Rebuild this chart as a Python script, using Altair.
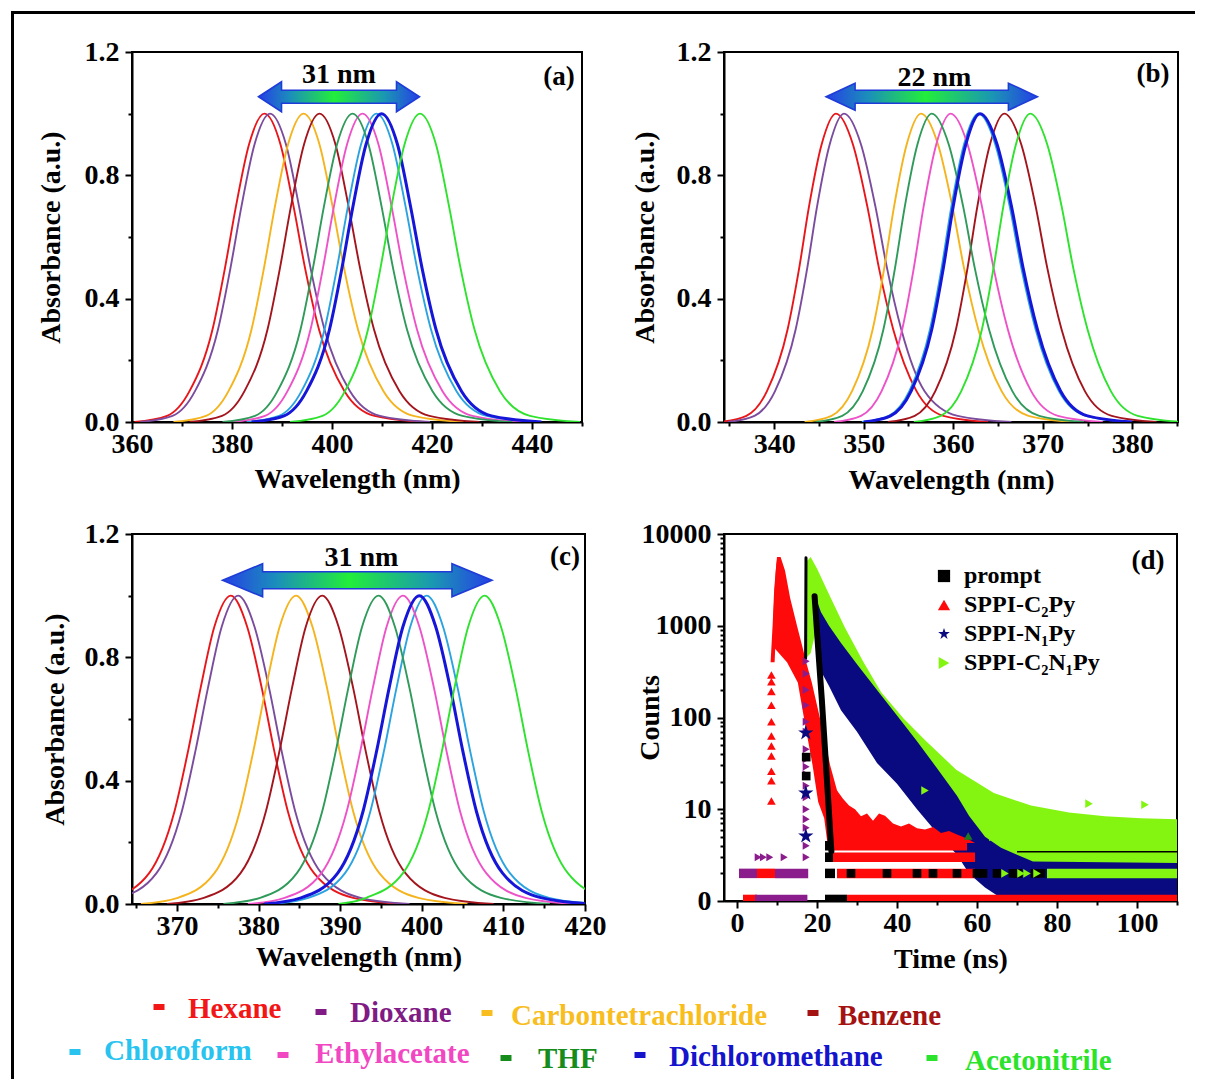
import altair as alt
import pandas as pd

FONT = "Liberation Serif"

# ---------------- data: absorption spectra (panels a-c) ----------------
SOLVENTS = ["Hexane", "Dioxane", "Carbontetrachloride", "Benzene",
            "Chloroform", "Ethylacetate", "THF", "Dichloromethane", "Acetonitrile"]
LINE_COLORS = ["#e8161b", "#7b4c9e", "#f5b31c", "#a3141c", "#2aa3e0",
               "#ee52c8", "#2f9a5a", "#1616d8", "#2ee22e"]
LEGEND_COLORS = ["#f31616", "#801a84", "#f8bd1e", "#a51212", "#28c3ef",
                 "#f247c2", "#168c1c", "#1414cc", "#2be32b"]

# absorbance levels at which the wavelength of each curve was read
LEVELS = [0.0, 0.02, 0.1, 0.3, 0.5, 0.7, 0.9, 1.0, 0.9, 0.7, 0.5, 0.3, 0.1, 0.02, 0.0]

WL_A = [
    [360.5, 367.0, 371.5, 376.1, 378.6, 380.8, 383.4, 386.5, 389.7, 392.3, 394.6, 397.4, 402.5, 408.5, 418.5],
    [361.6, 368.1, 372.6, 377.2, 379.7, 381.9, 384.5, 387.6, 390.8, 393.4, 395.7, 398.5, 403.6, 409.6, 419.6],
    [368.3, 374.8, 379.3, 383.9, 386.4, 388.6, 391.2, 394.3, 397.5, 400.1, 402.4, 405.2, 410.3, 416.3, 426.3],
    [371.5, 378.0, 382.5, 387.1, 389.6, 391.8, 394.4, 397.5, 400.7, 403.3, 405.6, 408.4, 413.5, 419.5, 429.5],
    [382.9, 389.4, 393.9, 398.5, 401.0, 403.2, 405.8, 408.9, 412.1, 414.7, 417.0, 419.8, 424.9, 430.9, 440.9],
    [380.1, 386.6, 391.1, 395.7, 398.2, 400.4, 403.0, 406.1, 409.3, 411.9, 414.2, 417.0, 422.1, 428.1, 438.1],
    [378.1, 384.6, 389.1, 393.7, 396.2, 398.4, 401.0, 404.1, 407.3, 409.9, 412.2, 415.0, 420.1, 426.1, 436.1],
    [383.9, 390.4, 394.9, 399.5, 402.0, 404.2, 406.8, 409.9, 413.1, 415.7, 418.0, 420.8, 425.9, 431.9, 441.9],
    [391.6, 398.1, 402.6, 407.2, 409.7, 411.9, 414.5, 417.6, 420.8, 423.4, 425.7, 428.5, 433.6, 439.6, 449.6],
]
WL_B = [
    [333.9, 336.9, 339.2, 341.5, 342.8, 343.9, 345.3, 346.9, 348.8, 350.4, 351.7, 353.3, 355.9, 358.9, 363.9],
    [334.8, 337.8, 340.1, 342.4, 343.7, 344.8, 346.2, 347.8, 349.7, 351.3, 352.6, 354.2, 356.8, 360.5, 366.5],
    [343.4, 346.4, 348.7, 351.0, 352.3, 353.4, 354.8, 356.4, 358.3, 359.9, 361.2, 362.8, 365.4, 368.4, 373.4],
    [352.7, 355.7, 358.0, 360.3, 361.6, 362.7, 364.1, 365.7, 367.6, 369.2, 370.5, 372.1, 374.7, 377.7, 382.7],
    [349.8, 352.8, 355.1, 357.4, 358.7, 359.8, 361.2, 362.8, 364.7, 366.3, 367.6, 369.2, 371.8, 374.8, 379.8],
    [346.7, 349.7, 352.0, 354.3, 355.6, 356.7, 358.1, 359.7, 361.6, 363.2, 364.5, 366.1, 368.7, 371.7, 376.7],
    [344.6, 347.6, 349.9, 352.2, 353.5, 354.6, 356.0, 357.6, 359.5, 361.1, 362.4, 364.0, 366.6, 369.6, 374.6],
    [350.0, 353.0, 355.3, 357.6, 358.9, 360.0, 361.4, 363.0, 364.9, 366.5, 367.8, 369.4, 372.0, 375.0, 380.0],
    [355.6, 358.6, 360.9, 363.2, 364.5, 365.6, 367.0, 368.6, 370.5, 372.1, 373.4, 375.0, 377.6, 380.6, 385.6],
]
WL_C = [
    [357.6, 362.1, 366.6, 369.7, 371.4, 372.9, 374.6, 376.6, 378.6, 380.4, 381.9, 383.6, 386.8, 391.6, 397.6],
    [358.5, 363.0, 367.5, 370.6, 372.3, 373.8, 375.5, 377.5, 379.5, 381.3, 382.8, 384.5, 387.7, 392.5, 398.5],
    [365.6, 370.1, 374.6, 377.7, 379.4, 380.9, 382.6, 384.6, 386.6, 388.4, 389.9, 391.6, 394.8, 399.6, 405.6],
    [368.8, 373.3, 377.8, 380.9, 382.6, 384.1, 385.8, 387.8, 389.8, 391.6, 393.1, 394.8, 398.0, 402.8, 408.8],
    [381.6, 386.1, 390.6, 393.7, 395.4, 396.9, 398.6, 400.6, 402.6, 404.4, 405.9, 407.6, 410.8, 415.6, 421.6],
    [378.7, 383.2, 387.7, 390.8, 392.5, 394.0, 395.7, 397.7, 399.7, 401.5, 403.0, 404.7, 407.9, 412.7, 418.7],
    [375.7, 380.2, 384.7, 387.8, 389.5, 391.0, 392.7, 394.7, 396.7, 398.5, 400.0, 401.7, 404.9, 409.7, 415.7],
    [380.7, 385.2, 389.7, 392.8, 394.5, 396.0, 397.7, 399.7, 401.7, 403.5, 405.0, 406.7, 409.9, 414.7, 420.7],
    [389.8, 393.2, 397.7, 400.8, 402.5, 404.0, 405.7, 407.7, 409.7, 411.5, 413.0, 414.7, 417.9, 422.7, 428.7],
]

# shift arrows (nm endpoints) and their labels
SHIFT_TEXT = ["31 nm", "22 nm", "31 nm"]
ARROW_NM = [(385.3, 417.5), (345.8, 369.4), (375.6, 408.6)]
ARROW_Y = [1.055, 1.055, 1.05]
SHIFT_POS = [(401.4, 1.125), (357.9, 1.117), (392.6, 1.122)]

# ---------------- data: fluorescence decay (panel d) ----------------
SERIES = ["prompt", "SPPI-C₂Py", "SPPI-N₁Py", "SPPI-C₂N₁Py"]
SERIES_COLORS = ["#000000", "#ff0a0a", "#0a0a80", "#84f511"]

# SPPI-C2N1Py main band (time, upper and lower count)
G_T = [17.4, 18.4, 20.0, 23.0, 27.0, 31.5, 36.0, 41.7, 47.3, 54.8, 64.2, 73.5, 83.0, 92.0, 101.0, 110.0]
G_TOP = [5000, 5600, 4200, 2200, 950, 410, 190, 97, 55, 27, 15, 11, 9.2, 8.4, 8.0, 7.8]
G_BOT = [450, 500, 1000, 400, 250, 120, 60, 35, 15, 6, 2.0, 1.6, 1.6, 1.6, 1.6, 1.6]
# SPPI-N1Py band
B_T = [19.3, 20.3, 21.0, 23.0, 26.0, 30.0, 35.0, 40.0, 45.0, 50.0, 55.0, 58.0, 62.0, 66.0, 70.0, 74.0, 110.0]
B_TOP = [2100, 1700, 1400, 1000, 650, 380, 200, 105, 55, 28, 14, 8.5, 5.0, 3.8, 3.2, 2.7, 2.6]
B_BOT = [1900, 600, 320, 220, 120, 70, 32, 19, 10, 5.5, 3.2, 2.0, 1.4, 1.08, 1.08, 1.08, 1.08]
# SPPI-C2Py rising and decaying edges (count, left time, right time)
R_RISE_C = [400, 1000, 2500, 4500, 5600]
R_RISE_TL = [8.4, 8.9, 9.3, 9.8, 10.1]
R_RISE_TR = [9.4, 9.8, 10.2, 10.6, 10.6]
R_DEC_C = [5600, 4000, 2000, 1000, 600, 400, 240, 96, 30, 12, 8, 4.3]
R_DEC_TL = [10.0, 9.7, 9.3, 9.0, 8.9, 12.5, 15.2, 16.8, 18.9, 20.3, 21.8, 22.6]
R_DEC_TR = [10.9, 12.0, 13.3, 15.0, 16.3, 17.3, 18.7, 20.8, 23.3, 25.8, 28.0, 30.0]
# SPPI-C2Py noisy tail above the 4-count row
R_TAIL_T = [23.5, 25.0, 26.5, 28.0, 29.5, 31.0, 32.5, 34.0, 35.5, 37.0, 39.0, 41.0,
            43.0, 45.0, 47.0, 49.0, 51.0, 53.0, 55.0, 57.5, 59.5]
R_TAIL_TOP = [12, 16, 13, 11, 10, 8.4, 9, 7.5, 9, 8.5, 7, 6.5, 7, 6.2, 6, 6.4, 5.5, 5.8, 5.3, 4.8, 4.3]
R_TAIL_BOT = [4.3] * len(R_TAIL_T)
# discrete count rows (count, start time, end time)
R_ROW_C = [1.04, 2, 3, 4, 2, 1.04]
R_ROW_T0 = [27.5, 25.0, 24.0, 24.0, 5.0, 1.5]
R_ROW_T1 = [110.0, 59.5, 59.5, 57.5, 9.5, 5.0]
P_ROW_C = [2, 2, 1.04]
P_ROW_T0 = [0.5, 9.5, 4.5]
P_ROW_T1 = [5.0, 17.8, 17.6]
K_ROW_C = [4, 3, 2, 1.04]
K_ROW_T0 = [22.0, 22.0, 22.0, 22.0]
K_ROW_T1 = [24.0, 24.0, 24.5, 27.5]
G_ROW_C = [2]
G_ROW_T0 = [77.5]
G_ROW_T1 = [110.0]
K_FLAT_C = [3.45]
K_FLAT_T0 = [70.0]
K_FLAT_T1 = [110.0]
# prompt edges
K_RISE_T = [17.15, 17.25]
K_RISE_C = [440, 5500]
K_DEC_T = [19.4, 20.3, 21.2, 22.0, 22.8, 23.3, 23.6]
K_DEC_C = [2100, 560, 158, 45, 12.6, 5.5, 3.5]
# sparse markers
PROMPT_T = [17.3, 17.3, 28.5, 37.5, 45.0, 49.0, 55.0, 60.0, 61.5, 65.0, 69.0, 70.2, 74.5, 76.0]
PROMPT_C = [23, 37, 2, 2, 2, 2, 2, 2, 2, 2, 2, 2, 2, 2]
C2PY_T = [8.6] * 11
C2PY_C = [12.3, 20.4, 26, 38, 49, 63, 90, 136, 192, 246, 290]
N1PY_T = [17.2, 17.2, 17.2]
N1PY_C = [5.1, 15, 68]
C2N1PY_T = [47.0, 64.0, 88.0, 102.0, 67.0, 71.0, 72.5, 75.0]
C2N1PY_C = [16, 5.0, 11.5, 11.2, 2, 2, 2, 2]
PURPLE_T = [17.3] * 17 + [5.3, 6.6, 8.2, 11.8]
PURPLE_C = [3, 4, 6.3, 7.8, 10, 13.5, 18, 24, 29, 35, 45, 70, 90, 136, 200, 300, 410, 3, 3, 3, 3]
DKGREEN_T = [57.8]
DKGREEN_C = [5.1]

# ---------------- layout / style ----------------
STAR = ("M0,-1L0.2245,-0.309L0.951,-0.309L0.363,0.118L0.588,0.809L0,0.382"
        "L-0.588,0.809L-0.363,0.118L-0.951,-0.309L-0.2245,-0.309Z")
DASH = "M-1,-0.55L1,-0.55L1,0.55L-1,0.55Z"
SERIES_SHAPES = ["square", "triangle-up", STAR, "triangle-right"]
ARROW_DIMS = [(23, 15, 6.5), (29, 13.5, 6.5), (40, 16.5, 8.5)]  # head length, head half-h, shaft half-h (px)
Y_TICKS = [0, 0.2, 0.4, 0.6, 0.8, 1.0, 1.2]
YD_TICKS = [m * 10 ** e for e in range(4) for m in range(1, 10)] + [10000]
LEG_DASH = [(159, 1007), (321, 1012), (487, 1013), (813, 1013),
            (75, 1052), (283, 1055), (506, 1058), (640, 1055), (932, 1058)]
LEG_TEXT = [(188, 1018), (350, 1022), (511, 1025), (838, 1025),
            (104, 1060), (315, 1063), (538, 1068), (669, 1066), (965, 1070)]
ORIGIN_X, LEG_TOP = 132, 1016

GRAD = alt.Gradient(
    gradient="linear",
    stops=[alt.GradientStop(color="#2540e6", offset=0),
           alt.GradientStop(color="#1b8fba", offset=0.2),
           alt.GradientStop(color="#22ee3a", offset=0.47),
           alt.GradientStop(color="#1a98b2", offset=0.78),
           alt.GradientStop(color="#2540e6", offset=1)],
    x1=0, x2=1, y1=0, y2=0)


def tick_cond(test_minor):
    return {"condition": {"test": test_minor, "value": 4}, "value": 7}


def arrow_path(h, H, S):
    a = -1 + h
    b = 1 - h
    return (f"M-1,0L{a:.4f},{-H:.4f}L{a:.4f},{-S:.4f}L{b:.4f},{-S:.4f}L{b:.4f},{-H:.4f}"
            f"L1,0L{b:.4f},{H:.4f}L{b:.4f},{S:.4f}L{a:.4f},{S:.4f}L{a:.4f},{H:.4f}Z")


def spectral_panel(idx, wl_sets, xdom, xvals, xmajor, width, tag, tag_xy, xtitle_y, ytitle_x, extra=None):
    rows = []
    for name, xs in zip(SOLVENTS, wl_sets):
        for k, (x, a) in enumerate(zip(xs, LEVELS)):
            rows.append({"solvent": name, "wl": x, "absb": a, "k": k})
    df = pd.DataFrame(rows)
    xs_ = alt.Scale(domain=xdom, nice=False, zero=False)
    ys_ = alt.Scale(domain=[0, 1.2], nice=False, zero=False)
    xaxis = alt.Axis(values=xvals, format="d",
                     labelExpr=f"datum.value % {xmajor} == 0 ? datum.label : ''",
                     tickSize=tick_cond(f"datum.value % {xmajor} != 0"),
                     title="Wavelength (nm)", titleY=xtitle_y, titleBaseline="middle")
    yaxis = alt.Axis(values=Y_TICKS,
                     labelExpr="round(datum.value * 10) % 4 == 0 ? format(datum.value, '.1f') : ''",
                     tickSize=tick_cond("round(datum.value * 10) % 4 != 0"),
                     title="Absorbance (a.u.)", titleX=ytitle_x, titleBaseline="middle")

    def X(f):
        return alt.X(f"{f}:Q", scale=xs_, axis=xaxis)

    def Y(f):
        return alt.Y(f"{f}:Q", scale=ys_, axis=yaxis)

    lines = alt.Chart(df).mark_line(interpolate="monotone", clip=True).encode(
        x=X("wl"), y=Y("absb"),
        color=alt.Color("solvent:N", scale=alt.Scale(domain=SOLVENTS, range=LINE_COLORS), legend=None),
        strokeWidth=alt.condition(alt.datum.solvent == "Dichloromethane", alt.value(3.0), alt.value(1.9)),
        order=alt.Order("k:Q"),
    )
    x0, x1 = ARROW_NM[idx]
    span_px = (x1 - x0) * width / (xdom[1] - xdom[0])
    u = span_px / 2.0
    h, H, S = ARROW_DIMS[idx]
    arr_df = pd.DataFrame({"wl": [(x0 + x1) / 2.0], "absb": [ARROW_Y[idx]]})
    arrow = alt.Chart(arr_df).mark_point(
        shape=arrow_path(h / u, H / u, S / u), size=span_px ** 2, filled=True,
        fill=GRAD, stroke="#1f3bd8", strokeWidth=1.6, opacity=1,
    ).encode(x=X("wl"), y=Y("absb"))
    lab_df = pd.DataFrame({"wl": [SHIFT_POS[idx][0]], "absb": [SHIFT_POS[idx][1]], "txt": [SHIFT_TEXT[idx]]})
    label = alt.Chart(lab_df).mark_text(font=FONT, fontSize=28, fontWeight="bold", color="black").encode(
        x=X("wl"), y=Y("absb"), text="txt:N")
    tag_df = pd.DataFrame({"txt": [tag]})
    tagm = alt.Chart(tag_df).mark_text(font=FONT, fontSize=27, fontWeight="bold", color="black").encode(
        x=alt.value(tag_xy[0]), y=alt.value(tag_xy[1]), text="txt:N")
    layers = [lines, arrow, label, tagm]
    if extra is not None:
        layers += extra
    return alt.layer(*layers).properties(width=width, height=370)


# figure frame (decoration) placed relative to panel (a)
frame_df = pd.DataFrame({"k": [0]})
frame_top = alt.Chart(frame_df).mark_rule(color="black", strokeWidth=3, clip=False, strokeCap="butt").encode(
    x=alt.value(-121), x2=alt.value(1063), y=alt.value(-39.5))
frame_left = alt.Chart(frame_df).mark_rule(color="black", strokeWidth=3, clip=False, strokeCap="butt").encode(
    x=alt.value(-119.5), y=alt.value(-41), y2=alt.value(1027))

pa = spectral_panel(0, WL_A, [360, 450], list(range(360, 451, 10)), 20, 450, "(a)", (427, 25), 57, -81,
                    extra=[frame_top, frame_left])
pb = spectral_panel(1, WL_B, [334.4, 385.1], list(range(335, 386, 5)), 10, 454, "(b)", (429, 22), 58, -79)
pc = spectral_panel(2, WL_C, [364.5, 420], list(range(365, 421, 5)), 10, 453, "(c)", (433, 23), 53, -77)

# ---------------- panel d ----------------
XD_SCALE = alt.Scale(domain=[-3.25, 110], nice=False, zero=False)
YD_SCALE = alt.Scale(type="log", domain=[1, 10000], nice=False)
AXD_X = alt.Axis(values=list(range(0, 111, 10)), format="d",
                 labelExpr="datum.value % 20 == 0 ? format(datum.value, 'd') : ''",
                 tickSize=tick_cond("datum.value % 20 != 0"),
                 title="Time (ns)", titleY=58, titleBaseline="middle")
AXD_Y = alt.Axis(values=YD_TICKS,
                 labelExpr="datum.value == 1 ? '0' : (indexof([10, 100, 1000, 10000], datum.value) >= 0 ? format(datum.value, 'd') : '')",
                 tickSize=tick_cond("indexof([1, 10, 100, 1000, 10000], datum.value) < 0"),
                 title="Counts", titleX=-74, titleBaseline="middle")


def dx(f):
    return alt.X(f"{f}:Q", scale=XD_SCALE, axis=AXD_X)


def dy(f):
    return alt.Y(f"{f}:Q", scale=YD_SCALE, axis=AXD_Y)


def band(t, top, bot, color):
    df = pd.DataFrame({"t": t, "top": top, "bot": bot})
    return alt.Chart(df).mark_area(color=color, opacity=1, clip=True).encode(
        x=dx("t"), y=dy("top"), y2=alt.Y2("bot"))


def hband(c, tl, tr, color):
    df = pd.DataFrame({"c": c, "tl": tl, "tr": tr})
    return alt.Chart(df).mark_area(color=color, opacity=1, clip=True, orient="horizontal").encode(
        y=dy("c"), x=dx("tl"), x2=alt.X2("tr"))


def rows_rule(c, t0, t1, color, w=9.5):
    df = pd.DataFrame({"c": c, "t0": t0, "t1": t1})
    return alt.Chart(df).mark_rule(color=color, strokeWidth=w, clip=True, strokeCap="butt").encode(
        x=dx("t0"), x2=alt.X2("t1"), y=dy("c"))


def path_line(t, c, color, w):
    df = pd.DataFrame({"t": t, "c": c})
    return alt.Chart(df).mark_line(color=color, strokeWidth=w, clip=True, strokeCap="round",
                                   strokeJoin="round").encode(x=dx("t"), y=dy("c"))


def pts(t, c, color, shape, size):
    df = pd.DataFrame({"t": t, "c": c})
    return alt.Chart(df).mark_point(color=color, shape=shape, size=size, filled=True, opacity=1,
                                    clip=True).encode(x=dx("t"), y=dy("c"))


leg_rows = []
for name, ts, cs in zip(SERIES, [PROMPT_T, C2PY_T, N1PY_T, C2N1PY_T], [PROMPT_C, C2PY_C, N1PY_C, C2N1PY_C]):
    for t, c in zip(ts, cs):
        leg_rows.append({"series": name, "t": t, "c": c})
leg_df = pd.DataFrame(leg_rows)
LEG_D = alt.Legend(title=None, orient="none", legendX=208, legendY=30, labelFont=FONT, labelFontSize=24,
                   labelFontWeight="bold", labelColor="black", symbolSize=150, rowPadding=5,
                   labelOffset=8, symbolStrokeWidth=0, padding=0)
series_pts = alt.Chart(leg_df).mark_point(filled=True, opacity=1, clip=True).encode(
    x=dx("t"), y=dy("c"),
    color=alt.Color("series:N", scale=alt.Scale(domain=SERIES, range=SERIES_COLORS), legend=LEG_D),
    shape=alt.Shape("series:N", scale=alt.Scale(domain=SERIES, range=SERIES_SHAPES), legend=LEG_D),
    size=alt.condition(alt.datum.series == "SPPI-N₁Py", alt.value(260), alt.value(75)),
)
tag_d = alt.Chart(pd.DataFrame({"txt": ["(d)"]})).mark_text(
    font=FONT, fontSize=27, fontWeight="bold", color="black").encode(
    x=alt.value(424), y=alt.value(27), text="txt:N")

pd_ = alt.layer(
    band(G_T, G_TOP, G_BOT, SERIES_COLORS[3]),
    band(B_T, B_TOP, B_BOT, SERIES_COLORS[2]),
    rows_rule(G_ROW_C, G_ROW_T0, G_ROW_T1, SERIES_COLORS[3]),
    rows_rule(K_FLAT_C, K_FLAT_T0, K_FLAT_T1, "#000000", w=1.5),
    rows_rule(R_ROW_C, R_ROW_T0, R_ROW_T1, SERIES_COLORS[1]),
    band(R_TAIL_T, R_TAIL_TOP, R_TAIL_BOT, SERIES_COLORS[1]),
    hband(R_DEC_C, R_DEC_TL, R_DEC_TR, SERIES_COLORS[1]),
    hband(R_RISE_C, R_RISE_TL, R_RISE_TR, SERIES_COLORS[1]),
    rows_rule(P_ROW_C, P_ROW_T0, P_ROW_T1, "#8b1c8b"),
    rows_rule(K_ROW_C, K_ROW_T0, K_ROW_T1, "#000000"),
    path_line(K_RISE_T, K_RISE_C, "#000000", 3),
    path_line(K_DEC_T, K_DEC_C, "#000000", 6),
    pts(PURPLE_T, PURPLE_C, "#8b1c8b", "triangle-right", 65),
    pts(DKGREEN_T, DKGREEN_C, "#1e7a1e", "triangle-up", 75),
    series_pts,
    tag_d,
).properties(width=453, height=367)

# ---------------- solvent legend ----------------
sol_df = pd.DataFrame({
    "solvent": SOLVENTS,
    "dxp": [p[0] - ORIGIN_X for p in LEG_DASH],
    "dyp": [p[1] - LEG_TOP for p in LEG_DASH],
    "txp": [p[0] - ORIGIN_X for p in LEG_TEXT],
    "typ": [p[1] - LEG_TOP for p in LEG_TEXT],
})
LX = alt.Scale(domain=[0, 400], nice=False, zero=False)
LY = alt.Scale(domain=[0, 60], nice=False, zero=False, reverse=True)
LCOL = alt.Color("solvent:N", scale=alt.Scale(domain=SOLVENTS, range=LEGEND_COLORS), legend=None)
dashes = alt.Chart(sol_df).mark_point(shape=DASH, size=121, filled=True, opacity=1).encode(
    x=alt.X("dxp:Q", scale=LX, axis=None), y=alt.Y("dyp:Q", scale=LY, axis=None), color=LCOL)
names = alt.Chart(sol_df).mark_text(font=FONT, fontSize=29, fontWeight="bold", align="left",
                                    baseline="alphabetic").encode(
    x=alt.X("txp:Q", scale=LX, axis=None), y=alt.Y("typ:Q", scale=LY, axis=None),
    text="solvent:N", color=LCOL)
leg = alt.layer(dashes, names).properties(width=400, height=60,
                                          view=alt.ViewBackground(stroke="transparent"))

chart = alt.concat(
    pa, pb, pc, pd_, leg, columns=2,
    spacing={"row": 112, "column": 139},
    bounds="flush",
).resolve_scale(color="independent", shape="independent").properties(
    padding={"left": 0, "top": 0, "right": 0, "bottom": 0},
    background="white",
).configure_view(stroke="black", strokeWidth=2).configure_axis(
    labelFont=FONT, labelFontSize=28, labelFontWeight="bold", labelColor="black",
    titleFont=FONT, titleFontSize=28, titleFontWeight="bold", titleColor="black",
    domainColor="black", domainWidth=2, tickColor="black", tickWidth=2, grid=False,
    labelFlush=False,
).configure_axisX(labelPadding=1).configure_axisY(labelPadding=6)

chart.save("out.html", embed_options={"renderer": "svg", "actions": False})
